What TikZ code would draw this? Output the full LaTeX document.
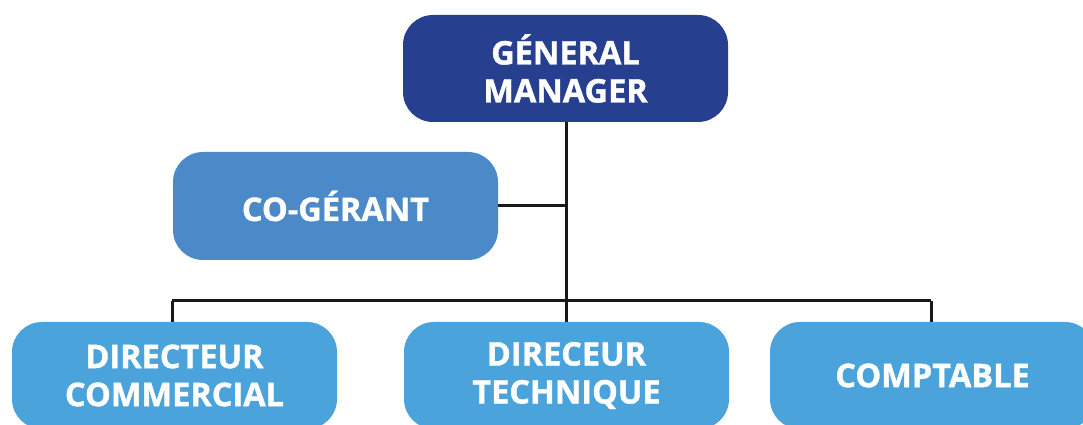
\documentclass[tikz,border=0pt]{standalone}
\usepackage{fontspec}
\setmainfont{Open Sans}[BoldFont={* Bold}, BoldFeatures={FakeBold=1.2}]
\definecolor{gmblue}{HTML}{263F8E}
\definecolor{coblue}{HTML}{4B89C8}
\definecolor{lightblue}{HTML}{4AA3DB}
\begin{document}
\begin{tikzpicture}[x=1pt,y=1pt,
  box/.style={rounded corners=30pt, minimum width=325pt, minimum height=107pt,
    inner sep=0pt, text=white, align=center,
    font=\fontsize{32.5}{38}\selectfont\bfseries},
  link/.style={draw=black!90, line width=3pt}]
\useasboundingbox (0,0) rectangle (1083,425);
\clip (0,0) rectangle (1083,425);
\node[box, fill=gmblue] (gm) at (565.5,356.5) {GÉNERAL\\MANAGER};
\node[box, fill=coblue, minimum height=108pt] (co) at (335.5,219) {CO-GÉRANT};
\node[box, fill=lightblue] (dc) at (174.5,49.5) {DIRECTEUR\\COMMERCIAL};
\node[box, fill=lightblue] (dt) at (566.5,49.5) {DIRECEUR\\TECHNIQUE};
\node[box, fill=lightblue] (cp) at (932.5,49.5) {COMPTABLE};
\coordinate (j) at (566,124);
\coordinate (jl) at (172,124);
\coordinate (jr) at (931,124);
\coordinate (jc) at (566,219);
\draw[link] (gm.south -| j) -- (j);
\draw[link] (co.east) -- (jc);
\draw[link] (jl) -- (jr);
\draw[link] (jl) -- (jl |- dc.north);
\draw[link] (j) -- (j |- dt.north);
\draw[link] (jr) -- (jr |- cp.north);
\end{tikzpicture}
\end{document}
